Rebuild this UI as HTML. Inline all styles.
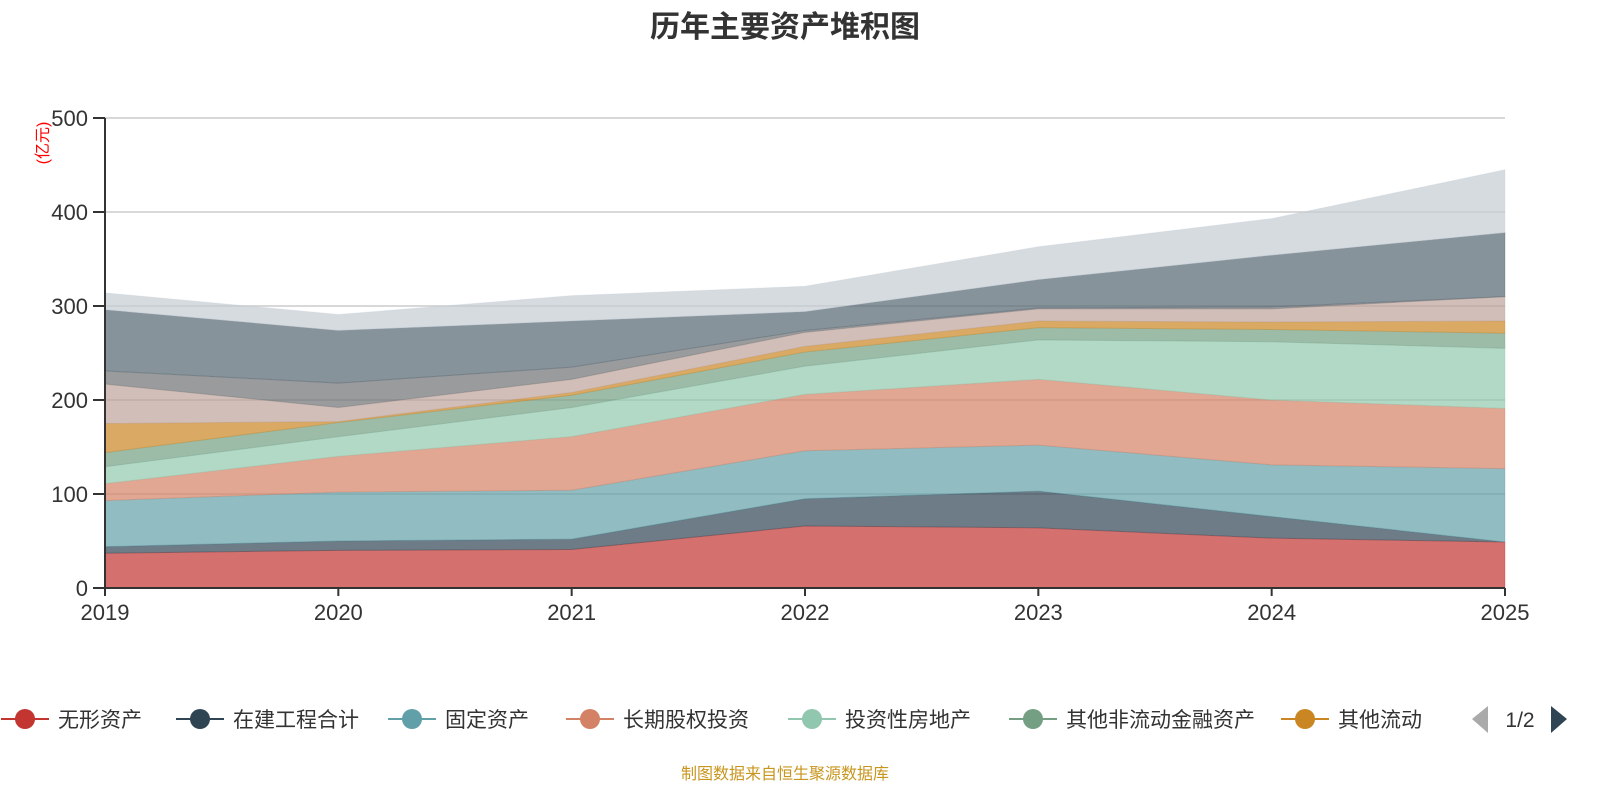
<!DOCTYPE html>
<html><head><meta charset="utf-8"><style>
body{margin:0;background:#fff;}
svg text{font-family:"Liberation Sans","Noto Sans CJK SC",sans-serif;}
</style></head><body>
<svg id="c" width="1600" height="800" xmlns="http://www.w3.org/2000/svg">
<text x="785" y="37" text-anchor="middle" font-size="30" font-weight="bold" fill="#333">历年主要资产堆积图</text>
<text transform="translate(48,143) rotate(-90)" text-anchor="middle" font-size="16" fill="#ff0000">(亿元)</text>
<g id="grid"></g><g id="areas"></g><g id="axes"></g><g id="legend"></g>
<text x="785" y="779" text-anchor="middle" font-size="16" fill="#c8961e">制图数据来自恒生聚源数据库</text>
</svg>
<script>
const years=['2019','2020','2021','2022','2023','2024','2025'];
const yTicks=[0,100,200,300,400,500];
const names=['无形资产','在建工程合计','固定资产','长期股权投资','投资性房地产','其他非流动金融资产','其他流动','s8','s9','s10','s11'];
const s1=[37,40,41,66,64,53,49];
const s2=[7,10,11,29,39,23,0];
const s3=[49,52,52,51,49,55,78];
const s4=[18,38,57,60,70,69,64];
const s5=[18,21,31,30,42,62,64];
const s6=[15,15,13,15,13,13,16];
const s7=[31,1,3,6,7,8,13];
const s8=[42,15,14,15,13,14,26];
const s9=[14,26,13,2,1,2,0];
const s10=[65,56,49,20,30,55,68];
const s11=[18,17,27,27,35,39,67];
const series=[s1,s2,s3,s4,s5,s6,s7,s8,s9,s10,s11];
const colors=['#c23531','#2f4554','#61a0a8','#d48265','#91c7ae','#749f83','#ca8622','#bda29a','#6e7074','#546570','#c4ccd3'];
const NS='http://www.w3.org/2000/svg';
const x=i=>105+i*(1400/(years.length-1));
const y=v=>588-v*(470/500);
function mk(t,a,p){const e=document.createElementNS(NS,t);for(const k in a)e.setAttribute(k,a[k]);p.appendChild(e);return e;}
const grid=document.getElementById('grid'),axes=document.getElementById('axes'),areas=document.getElementById('areas'),leg=document.getElementById('legend');
yTicks.forEach(v=>{
 if(v>0){const l=mk('line',{x1:105,x2:1505,y1:y(v),y2:y(v),stroke:'#ccc','stroke-width':1.5},grid);
 
 }
 const tk=mk('line',{x1:93,x2:105,y1:y(v),y2:y(v),stroke:'#333','stroke-width':2},axes);
 
 
 const t=mk('text',{x:88,y:y(v)+8,'text-anchor':'end','font-size':22,fill:'#333'},axes);t.textContent=v;
 
 
});
let base=years.map(()=>0);
series.forEach((s,k)=>{
 const top=base.map((b,i)=>b+s[i]);
 let d='M'+top.map((v,i)=>x(i)+','+y(v)).join('L');
 for(let i=years.length-1;i>=0;i--)d+='L'+x(i)+','+y(base[i]);
 const p=mk('path',{d:d+'Z',fill:colors[k],'fill-opacity':0.7,stroke:colors[k],'stroke-opacity':0.3},areas);
 
 
 base=top;
});
const ya=mk('line',{x1:105,x2:105,y1:118,y2:588,stroke:'#333','stroke-width':2},axes);


const xa=mk('line',{x1:105,x2:1505,y1:588,y2:588,stroke:'#333','stroke-width':2},axes);


years.forEach((yr,i)=>{
 const tk=mk('line',{x1:x(i),x2:x(i),y1:588,y2:596,stroke:'#333','stroke-width':2},axes);
 
 
 const t=mk('text',{x:x(i),y:620,'text-anchor':'middle','font-size':22,fill:'#333'},axes);t.textContent=yr;
 
 
});
const lx=[25,200,412,590,812,1033,1305];
for(let k=0;k<7;k++){
 const g=mk('g',{},leg);
 
 
 mk('line',{x1:lx[k]-24,x2:lx[k]+24,y1:719,y2:719,stroke:colors[k],'stroke-width':2},g);
 mk('circle',{cx:lx[k],cy:719,r:10,fill:colors[k]},g);
 const t=mk('text',{x:lx[k]+33,y:727,'font-size':21,fill:'#333'},g);t.textContent=names[k];
}
const a1=mk('path',{d:'M1488,706L1472,719L1488,733Z',fill:'#aaa'},leg);


const pg=mk('text',{x:1520,y:727,'text-anchor':'middle','font-size':21,fill:'#333'},leg);pg.textContent='1/2';


const a2=mk('path',{d:'M1551,706L1567,719L1551,733Z',fill:'#2f4554'},leg);


</script>
</body></html>
